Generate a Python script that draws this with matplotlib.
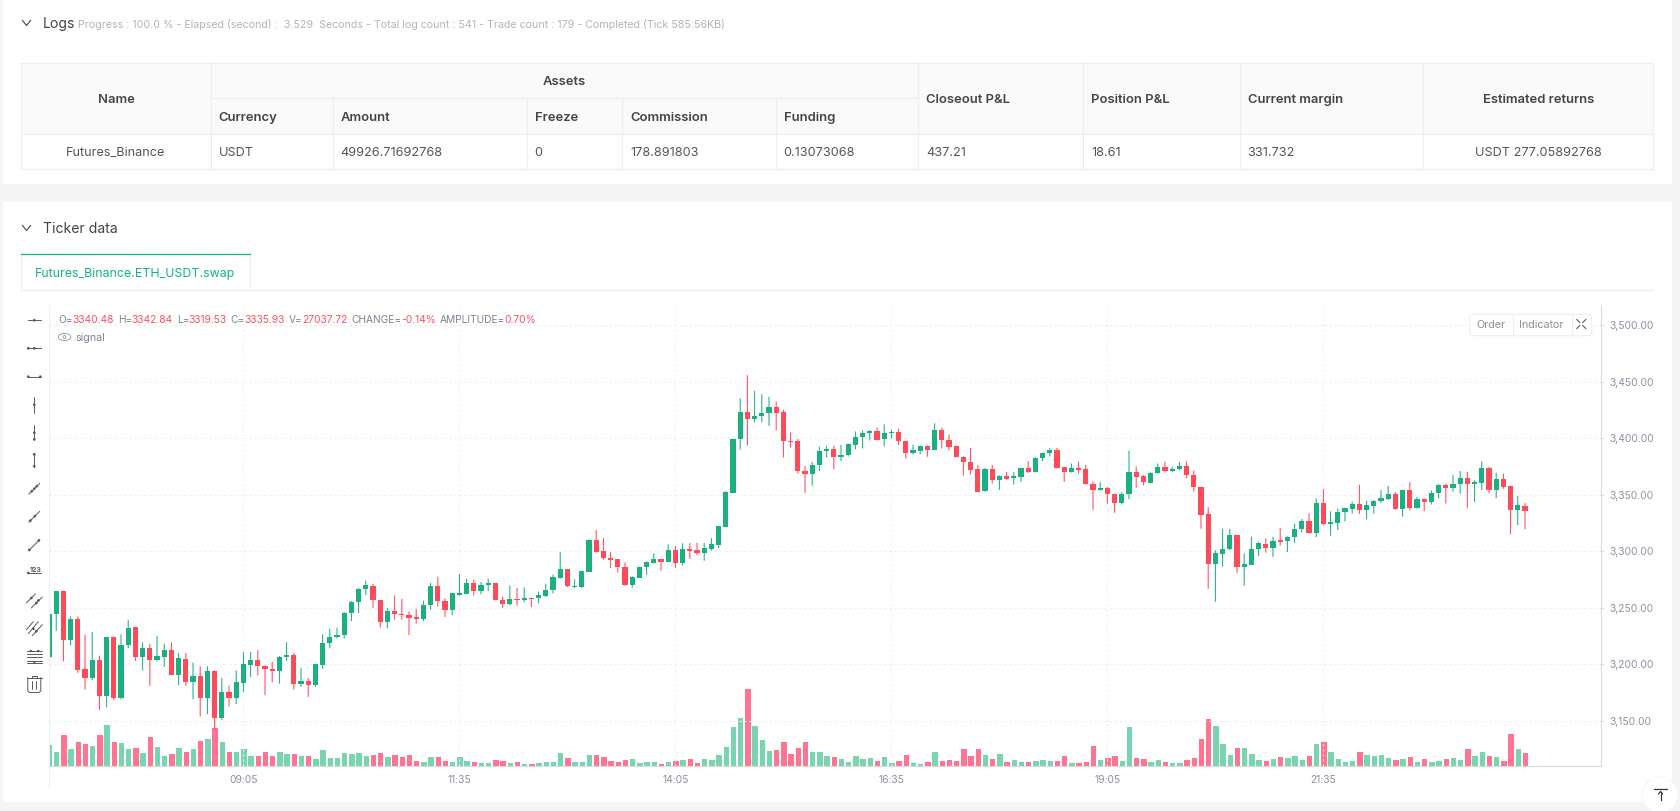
import numpy as np
import matplotlib
matplotlib.use('Agg')
import matplotlib.pyplot as plt
from matplotlib.patches import Rectangle, FancyBboxPatch, Circle, Ellipse

plt.rcParams['font.family'] = ['Inter', 'DejaVu Sans']

W, H = 1680, 811

# ETH_USDT 5 minute candles
opens = [
    3206.2,3244.1,3265.3,3221.2,3239.7,3196.2,3188,3204.1,3172.1,3223.8,
    3170.3,3217.4,3232.6,3206.2,3214.1,3203.8,3206.8,3212.6,3190.9,3204.7,
    3184.4,3189.7,3170.3,3193.8,3152.6,3175.3,3170.3,3183.8,3199.4,3204.1,
    3198.5,3195.6,3194.1,3206.5,3207.9,3182.4,3185.6,3181.5,3199.7,3218.8,
    3223.8,3226.2,3245.3,3254.7,3266.5,3269.7,3257.1,3237.1,3246.8,3244.7,
    3243.8,3242.2,3240.1,3252.2,3269.3,3256.3,3248.1,3261.4,3262.2,3272,
    3264.9,3270.5,3271.7,3257.2,3253.7,3257.8,3256.6,3258.7,3258.4,3260.8,
    3265.5,3276.7,3284,3268.3,3268.6,3281.9,3310.4,3300,3294.4,3292.9,
    3286.4,3269.8,3276.6,3286.1,3289.9,3292.9,3290.8,3300.9,3289.9,3302.4,
    3300.9,3298.5,3302.4,3305.9,3321.9,3351.6,3399,3423.3,3417.1,3419.8,
    3422.1,3427.5,3423.3,3397.8,3397.5,3371.2,3368.2,3376.2,3388.6,3390.4,
    3383.9,3385.1,3394,3401.1,3404.7,3406.4,3399,3404.7,3405.5,3397.5,
    3386.6,3389.2,3392.8,3390.1,3407.3,3398.4,3392.8,3383.9,3379.2,3372.9,
    3353.1,3372.9,3362.9,3367,3364.6,3366.1,3373.8,3370,3383,3386.9,
    3389.8,3374.4,3370,3373.8,3372.9,3359.9,3354,3356,3351,3342.7,
    3350.7,3370.3,3366.4,3360.8,3369.1,3374.4,3370.9,3372.6,3375.9,3367.9,
    3356.9,3332.9,3288.4,3297.9,3301.8,3314.5,3285.8,3288.1,3302.1,3306.4,
    3303.1,3309.6,3309,3312.3,3319.4,3327.2,3316.2,3342.9,3323.9,3325.1,
    3334.6,3337.8,3342.3,3336.9,3340.2,3344.1,3346.7,3350.3,3337.8,3354.2,
    3338.4,3346.4,3343.5,3351.5,3358.9,3355.6,3359.5,3364.8,3359.8,3360.4,
    3373.7,3353.9,3363.9,3357.4,3336.9,3340.48]
closes = [
    3244.7,3265,3221.2,3239.7,3195,3188,3204.1,3172.1,3223.8,3170.3,
    3217.4,3232.4,3206.2,3214.1,3203.8,3207.1,3212.6,3190.9,3205.6,3184.4,
    3189.7,3170.3,3193.8,3152.6,3175.3,3170.3,3184.1,3200,3204.1,3198.2,
    3195.6,3194.1,3206.5,3207.9,3182.4,3185.6,3181.5,3200,3219.1,3224.4,
    3226.2,3245.6,3254.7,3266.8,3270,3256.8,3237.1,3246.8,3244.1,3243.2,
    3240.9,3240.1,3252.5,3269.3,3256,3248.1,3262.8,3262.8,3272,3264.9,
    3270.5,3271.4,3256.6,3253.7,3257.8,3256.6,3258.7,3257.5,3261.1,3265.8,
    3277.3,3284.4,3268.9,3269.5,3282.2,3310.4,3299.4,3294.1,3292.6,3285.8,
    3269.8,3276.9,3286.4,3290.5,3292.9,3290.8,3300.9,3289.9,3302.4,3300.6,
    3298.5,3303,3306.5,3322.5,3352.2,3399.3,3423.3,3417.1,3420.1,3422.4,
    3427.5,3422.7,3397.2,3396.4,3370.9,3368.2,3376.5,3388.9,3390.4,3383.6,
    3385.4,3394.6,3401.4,3404.9,3406.4,3398.7,3404.7,3405.8,3397.2,3386.6,
    3389.5,3392.8,3390.1,3407.3,3398.4,3392.2,3383.6,3378.9,3372.3,3352.8,
    3372.9,3362.9,3367,3364.3,3366.4,3373.5,3370,3383,3387.2,3389.8,
    3373.8,3370,3373.5,3372.3,3359.6,3354,3356,3350.7,3342.7,3351,
    3370.3,3366.1,3361.1,3369.7,3374.4,3370.9,3372.9,3375.9,3367.6,3356.6,
    3332.3,3288.4,3298.2,3302.4,3314.5,3285.8,3288.7,3302.4,3307.4,3303.1,
    3309.3,3307.9,3312.6,3319.4,3327.2,3315.9,3342.9,3324.2,3325.7,3334.9,
    3338.1,3342,3336.9,3340.8,3344.7,3347,3350.3,3337.5,3354.2,3338.4,
    3346.1,3343.5,3351.8,3358.3,3355.6,3359.8,3364.8,3359.5,3361,3373.4,
    3353.9,3363.9,3357.1,3336.9,3340.8,3335.93]
highs = [
    3244.7,3265,3265.3,3242.4,3242.4,3226.2,3228.5,3207.6,3223.8,3224.7,
    3226.5,3239.4,3232.9,3219.4,3218,3225.3,3218.2,3219.4,3210,3210,
    3201.5,3198.2,3198.2,3194.7,3188,3181.2,3194.7,3210.9,3210.9,3212.6,
    3198.8,3202.1,3207.4,3219.4,3210,3196.8,3188,3200.6,3226.5,3231.5,
    3232.4,3246.2,3255.9,3267.6,3274.1,3271.2,3257.1,3249.7,3260.9,3257.9,
    3246.8,3249,3256.3,3272,3277.6,3258.4,3263.1,3280,3275.5,3274.9,
    3272.9,3275.8,3271.7,3259.9,3269.6,3267.6,3268.1,3258.7,3264.3,3271.4,
    3279.4,3299.4,3284,3275.1,3282.8,3310.7,3319,3311.9,3299.4,3292.9,
    3290.2,3278,3286.4,3291.1,3298.2,3292.9,3306.2,3304.4,3307.1,3307.4,
    3307.4,3307.4,3311.6,3322.5,3353.1,3399.6,3435.5,3455.9,3442,3439,
    3436.7,3432.5,3425.4,3405.2,3399.3,3375.6,3379.2,3392.5,3393.4,3393.4,
    3394.3,3395.5,3406.1,3407,3407.3,3409.4,3412.4,3407.6,3408.5,3397.8,
    3394.3,3393.7,3393.7,3413.3,3409.4,3403.2,3393.1,3384.2,3391.6,3376.2,
    3373.8,3376.5,3367.3,3370.3,3370,3373.8,3379.8,3383.3,3387.5,3391.6,
    3391.6,3374.4,3377.7,3379.5,3376.5,3362,3361.4,3356.9,3351,3352.2,
    3389.2,3375,3367.3,3370,3377.7,3379.2,3374.7,3379.2,3379.5,3371.4,
    3356.9,3339.1,3300.9,3319.9,3319.9,3314.5,3298.2,3313,3308.6,3311.4,
    3312.9,3320.6,3313.2,3324.2,3328.6,3333.7,3346.7,3355,3335.5,3337.8,
    3338.7,3344.1,3358.9,3344.7,3345.3,3354.2,3358,3352.4,3354.5,3361.3,
    3348.2,3346.7,3353.9,3359.5,3359.8,3367.5,3371.1,3370.2,3362.8,3379.7,
    3374.6,3369.6,3368.7,3358,3349.1,3342.84]
lows = [
    3206.2,3229.4,3202.6,3216.8,3192.4,3177.6,3185.9,3159.4,3161.8,3168.2,
    3168.8,3214.4,3203,3194.4,3181,3202.6,3197.6,3190.6,3181.5,3180.9,
    3169.1,3153.8,3155.9,3141.8,3150.6,3162.6,3164.7,3175.3,3188.8,3190.3,
    3172.6,3184.1,3182.9,3202.9,3177.6,3180,3171.2,3180,3195.9,3214.1,
    3223,3223,3238.2,3245.3,3261.2,3250,3232.4,3231.8,3239.4,3239.4,
    3225.9,3236,3238.1,3248.4,3251.3,3241.9,3243.4,3260.8,3261.9,3260.8,
    3261.9,3264.6,3256.6,3249.9,3252.2,3251.9,3254.9,3250.7,3254,3259.6,
    3262.8,3275.8,3268.3,3267.4,3267.4,3281.6,3298.8,3292.6,3285.2,3281,
    3269.5,3267.7,3276.3,3279.2,3289.3,3282.8,3290.5,3285.2,3287.3,3293.2,
    3296.7,3291.7,3300.6,3303,3321.9,3351.3,3390.1,3393.7,3414.1,3414.1,
    3410.9,3407,3383,3391.9,3368.8,3351.6,3358.1,3371.2,3383,3372.6,
    3379.8,3383.9,3390.1,3391,3398.1,3398.1,3392.8,3399.9,3394,3382.1,
    3385.7,3386,3383.6,3389.8,3391,3389.5,3383.3,3367,3367.9,3352.2,
    3352.8,3359.9,3354.3,3363.4,3359,3361.4,3369.4,3369.7,3379.8,3383.9,
    3373.2,3361.4,3369.7,3368.8,3359,3336.8,3353.7,3342.1,3334.1,3341.5,
    3346.2,3356.3,3358.4,3360.2,3368.8,3369.7,3370,3371.7,3364.6,3352.8,
    3319.9,3266.8,3255.2,3286.4,3300.9,3281,3269.5,3287.8,3295.8,3298.7,
    3295.1,3304.9,3299.3,3307.6,3316.5,3315.6,3312.6,3323.3,3313.8,3318.8,
    3326.6,3333.4,3333.1,3328.3,3333.1,3342.6,3345.3,3336.6,3330.7,3336.3,
    3337.8,3335.5,3341.4,3347,3342.3,3352.7,3350.9,3338.1,3343.8,3354.2,
    3351.2,3347,3355.3,3315,3323.3,3319.53]
# volume in thousands
volumes = [
    42.6,28.4,62.9,35.2,48.7,46.0,41.9,62.9,83.8,50.0,47.3,35.2,37.2,27.7,59.5,38.5,21.6,24.3,37.2,29.1,
    35.2,52.1,56.1,77.7,49.3,29.7,29.1,35.2,21.0,21.0,28.4,21.0,29.1,25.7,25.0,21.0,21.0,14.2,32.4,16.9,
    16.2,27.0,24.3,26.4,21.6,22.3,27.0,18.9,22.3,19.6,23.0,10.8,
    8.1,18.9,18.3,11.5,8.1,18.3,10.1,8.8,6.8,6.8,12.2,10.1,6.1,8.1,5.4,4.7,6.8,9.5,9.5,27.7,16.2,8.8,8.8,
    22.3,23.7,18.9,11.5,8.8,12.8,15.5,6.8,9.5,8.1,4.7,9.5,10.1,12.2,15.5,7.4,14.2,12.2,22.3,38.5,79.1,
    98.7,156.2,81.1,54.1,30.4,33.8,49.3,25.0,37.9,50.0,29.7,29.1,20.3,19.6,
    14.9,8.8,20.3,14.2,17.6,10.1,18.9,6.8,10.1,23.7,7.4,5.4,8.8,28.4,11.5,12.2,10.1,35.8,20.3,35.8,22.3,
    14.2,24.3,9.5,12.2,9.5,9.5,10.1,12.2,10.1,10.1,20.3,6.8,6.1,8.8,40.6,12.2,16.9,20.3,10.1,79.1,16.9,
    15.5,9.5,13.5,8.1,6.8,6.1,12.2,16.2,54.8,95.3,82.5,44.6,22.3,36.5,36.5,25.7,12.2,
    10.8,14.9,19.6,17.6,20.3,13.5,21.0,44.6,48.7,29.7,15.5,9.5,10.8,29.1,22.3,21.0,23.0,16.9,13.5,14.2,
    18.3,8.1,14.2,8.8,10.1,14.9,17.6,12.8,34.5,21.0,28.4,21.0,18.3,11.5,64.9,34.5,27.04]

time_ticks = [27, 57, 87, 117, 147, 177]
time_labels = ['09:05', '11:35', '14:05', '16:35', '19:05', '21:35']
price_ticks = [3150, 3200, 3250, 3300, 3350, 3400, 3450, 3500]

group_heads = ['Name', 'Assets', 'Closeout P&L', 'Position P&L', 'Current margin', 'Estimated returns']
asset_heads = ['Currency', 'Amount', 'Freeze', 'Commission', 'Funding']
row_values = ['Futures_Binance', 'USDT', '49926.71692768', '0', '178.891803', '0.13073068',
              '437.21', '18.61', '331.732', 'USDT 277.05892768']
col_edges = [21.4, 210.5, 332.6, 526.5, 622.4, 775.6, 918.2, 1083, 1239.6, 1423.3, 1653]

GREEN = '#1bb081'
RED = '#ff4a5a'
VGREEN = '#78d5b0'
VRED = '#ff7490'
AXIS_TXT = '#8a92a3'
GRID = '#eceef1'
ICON = '#555a60'


def fpx(n):
    return n * 0.72


fig = plt.figure(figsize=(W / 100, H / 100), dpi=100, facecolor='#f4f5f7')

# page layer in pixel coordinates
page = fig.add_axes([0, 0, 1, 1], zorder=0)
page.set_xlim(0, W)
page.set_ylim(H, 0)
page.axis('off')

page.add_patch(Rectangle((3, -2), 1669, 186, fc='white', ec='none'))
page.add_patch(Rectangle((3, 202), 1669, 600, fc='white', ec='none'))

for cy, name in [(23, 'Logs'), (228, 'Ticker data')]:
    page.plot([22.5, 26.5, 30.5], [cy - 2.5, cy + 2.5, cy - 2.5], color='#444444', lw=0.8)
    page.text(43, cy + 1, name, fontsize=fpx(14), color='#444444', va='center')
page.text(78, 25, 'Progress : 100.0 % - Elapsed (second) :  3.529  Seconds - Total log count : 541 - '
          'Trade count : 179 - Completed (Tick 585.56KB)', fontsize=fpx(10.65), color='#b4b4b4', va='center')

# table
page.add_patch(Rectangle((col_edges[0], 63.3), col_edges[-1] - col_edges[0], 71, fc='#fafafa', ec='none'))
BORDER = '#eeeeee'
for yy, x0, x1 in [(63.3, 21.4, 1653), (134.3, 21.4, 1653), (169.3, 21.4, 1653), (98.3, 210.5, 918.2)]:
    page.plot([x0, x1], [yy, yy], color=BORDER, lw=0.9)
for i, xx in enumerate(col_edges):
    top = 98.3 if 2 <= i <= 5 else 63.3
    bot = 169.3
    page.plot([xx, xx], [top, bot], color=BORDER, lw=0.8)

head_kw = dict(fontsize=fpx(13), color='#444444', va='center', fontweight='semibold')
body_kw = dict(fontsize=fpx(12.7), color='#555555', va='center')
page.text(116, 100, group_heads[0], ha='center', **head_kw)
page.text(564, 82, group_heads[1], ha='center', **head_kw)
for xx, s in zip(col_edges[6:9], group_heads[2:5]):
    page.text(xx + 8, 100, s, **head_kw)
page.text(1538.5, 100, group_heads[5], ha='center', **head_kw)
for xx, s in zip(col_edges[1:6], asset_heads):
    page.text(xx + 8, 117.7, s, **head_kw)
page.text(116, 153, row_values[0], ha='center', **body_kw)
for xx, s in zip(col_edges[1:9], row_values[1:9]):
    page.text(xx + 8, 153, s, **body_kw)
page.text(1538.5, 153, row_values[9], ha='center', **body_kw)

# tab
page.plot([21.4, 1653], [290.3, 290.3], color=BORDER, lw=0.9)
page.plot([21.4, 21.4], [254, 290.3], color=BORDER, lw=0.8)
page.plot([249.6, 249.6], [254, 290.3], color=BORDER, lw=0.8)
page.plot([21.4, 249.6], [254, 254], color='#12b386', lw=0.9)
page.text(135.5, 274, 'Futures_Binance.ETH_USDT.swap', fontsize=fpx(12.4), color='#12b386', va='center', ha='center')

# chart
AX_L, AX_R, AX_T, AX_B = 49.3, 1601.3, 305, 766.3
ax = fig.add_axes([AX_L / W, 1 - AX_B / H, (AX_R - AX_L) / W, (AX_B - AX_T) / H], zorder=1)
ax.patch.set_alpha(0)
ax.set_xlim(0.04, 215.6)
ax.set_ylim(3109.7, 3518)

x = np.arange(len(opens))
o = np.array(opens)
c = np.array(closes)
up = c >= o
colors = np.where(up, GREEN, RED)

# volume, own scale under the candles
vx = ax.twinx()
vx.set_xlim(ax.get_xlim())
vx.set_ylim(0, 461.3 * 2.03)
vx.axis('off')
vx.bar(x + 0.08, volumes, width=0.75, color=np.where(up, VGREEN, VRED), zorder=2, linewidth=0)
ax.set_zorder(2)
vx.set_zorder(1)

ax.set_xticks(time_ticks, time_labels)
ax.set_yticks(price_ticks, [f'{p:,.2f}' for p in price_ticks])
ax.grid(True, color=GRID, lw=0.8, ls=(0, (2, 2.5)), zorder=0)
ax.set_axisbelow(True)
ax.yaxis.tick_right()
ax.tick_params(axis='y', length=2.2, width=0.7, color='#dddddd', labelsize=fpx(10.3), labelcolor=AXIS_TXT, pad=3.5)
ax.tick_params(axis='x', length=0, labelsize=fpx(10.3), labelcolor=AXIS_TXT, pad=6)
for s in ['top', 'left']:
    ax.spines[s].set_visible(False)
for s in ['right', 'bottom']:
    ax.spines[s].set_visible(True)
    ax.spines[s].set_color('#d9dadd')
    ax.spines[s].set_linewidth(0.8)

wicks = ax.vlines(x, lows, highs, colors=colors, lw=0.75, zorder=3)
wicks.set_snap(False)
ax.bar(x, np.maximum(np.abs(c - o), 1.0), bottom=np.minimum(o, c), width=0.7, color=colors, linewidth=0, zorder=4)

# overlay layer for the controls on top of the chart
ui = fig.add_axes([0, 0, 1, 1], zorder=5)
ui.set_xlim(0, W)
ui.set_ylim(H, 0)
ui.axis('off')
ui.patch.set_alpha(0)

ui.plot([49.3, 49.3], [305, 787], color='#eef0f2', lw=0.8)

# header text run
renderer = fig.canvas.get_renderer()
LBL = '#7b8494'
NUM = '#f5535f'
run = [('O=', LBL), ('3340.48', NUM), ('H=', LBL), ('3342.84', NUM), ('L=', LBL), ('3319.53', NUM),
       ('C=', LBL), ('3335.93', NUM), ('V=', LBL), ('27037.72', NUM), ('CHANGE=', LBL), ('-0.14%', NUM),
       ('AMPLITUDE=', LBL), ('0.70%', NUM)]
cur = 58.7
for s, col in run:
    t = ui.text(cur, 320, s, fontsize=fpx(10.2), color=col, va='center')
    cur += t.get_window_extent(renderer).width + (3.8 if col == NUM else -0.4)

ui.add_patch(Ellipse((64.5, 337), 12.5, 7, fc='none', ec='#8b93a3', lw=0.6))
ui.add_patch(Circle((64.5, 337), 1.5, fc='none', ec='#8b93a3', lw=0.6))
ui.text(75.7, 338, 'signal', fontsize=fpx(10.7), color='#7b8494', va='center')

# order / indicator buttons
ui.add_patch(FancyBboxPatch((1471, 315.5), 119.5, 19, boxstyle='round,pad=1.2,rounding_size=3',
                            fc='white', ec='#eeeeee', lw=0.8))
for xx in [1512.7, 1571.7]:
    ui.plot([xx, xx], [314.3, 335.3], color='#eeeeee', lw=0.8)
ui.text(1491.3, 325, 'Order', fontsize=fpx(10.7), color='#8a8f98', ha='center', va='center')
ui.text(1541.7, 325, 'Indicator', fontsize=fpx(10.7), color='#8a8f98', ha='center', va='center')
for sx, sy in [(-1, -1), (1, -1), (-1, 1), (1, 1)]:
    ui.plot([1581.3 + sx * 1.5, 1581.3 + sx * 4.5], [324 + sy * 1.5, 324 + sy * 4.5], color='#6a6f76', lw=0.9)


# left toolbar
def seg(pts, dots=()):
    xs, ys = zip(*pts)
    ui.plot(xs, ys, color=ICON, lw=0.7, solid_capstyle='round')
    for dx, dy in dots:
        ui.add_patch(Circle((dx, dy), 1.35, fc=ICON, ec='none'))


CX = 34.3
y1, y2, y3 = 320.3, 348.3, 376.7
seg([(CX - 6.5, y1), (CX + 6.5, y1)], [(CX, y1)])
seg([(CX - 7, y2), (CX + 7, y2)], [(CX - 6, y2), (CX, y2)])
seg([(CX - 6.5, y3), (CX + 6.5, y3)], [(CX - 6, y3), (CX + 6, y3)])
y4, y5, y6 = 404.7, 432.7, 460.3
seg([(CX, y4 - 8), (CX, y4 + 8)], [(CX, y4)])
seg([(CX, y5 - 7.5), (CX, y5 + 7.5)], [(CX, y5), (CX, y5 + 6.5)])
seg([(CX, y6 - 6.5), (CX, y6 + 6.5)], [(CX, y6 - 6), (CX, y6 + 6)])
y7, y8, y9 = 488.7, 516.7, 545
seg([(CX - 5.5, y7 + 5.5), (CX + 5.5, y7 - 5.5)], [(CX, y7), (CX - 2.5, y7 + 2.5), (CX + 2.5, y7 - 2.5)])
seg([(CX - 5.5, y8 + 5.5), (CX + 5.5, y8 - 5.5)], [(CX - 4, y8 + 4), (CX + 0.5, y8 - 0.5)])
seg([(CX - 5.5, y9 + 5.5), (CX + 5.5, y9 - 5.5)], [(CX - 5, y9 + 5), (CX + 4.5, y9 - 4.5)])
y10 = 573
seg([(CX - 6.5, y10), (CX + 7, y10)], [(CX - 6, y10)])
ui.text(CX + 1.5, 569.5, '123', fontsize=fpx(7), color=ICON, ha='center', va='center', fontweight='bold')
y11 = 600
seg([(CX - 8, y11 + 3), (CX + 1, y11 - 6)], [(CX - 3, y11 - 2)])
seg([(CX - 3, y11 + 8), (CX + 8, y11 - 3)], [(CX + 2, y11 + 3), (CX + 4, y11 + 0.5)])
y12 = 627.7
seg([(CX - 8, y12 + 2), (CX - 1, y12 - 6)], [])
seg([(CX - 6, y12 + 6), (CX + 4, y12 - 6)], [(CX - 1, y12 + 1)])
seg([(CX - 2, y12 + 8), (CX + 8, y12 - 3)], [(CX + 2, y12 + 3.5)])
y13 = 656
for dy in [-5, -2, 1, 4.5, 7]:
    seg([(CX - 7.5, y13 + dy), (CX + 8, y13 + dy)], [])
ui.add_patch(Circle((CX - 3.5, y13 - 5), 1.2, fc=ICON, ec='none'))
ui.add_patch(Circle((CX + 4, y13 - 5), 1.2, fc=ICON, ec='none'))
ui.add_patch(Circle((CX, y13 + 7), 1.2, fc=ICON, ec='none'))
# trash can
seg([(CX - 7.5, 677.5), (CX + 7.5, 677.5)])
seg([(CX - 2.5, 677.5), (CX - 2.5, 675.5), (CX + 2.5, 675.5), (CX + 2.5, 677.5)])
seg([(CX - 6.5, 677.5), (CX - 6.5, 691), (CX - 4.5, 692.5), (CX + 4.5, 692.5), (CX + 6.5, 691), (CX + 6.5, 677.5)])
seg([(CX - 2, 681), (CX - 2, 689)])
seg([(CX + 2, 681), (CX + 2, 689)])

# back to top button
ui.add_patch(Circle((1660, 795), 18, fc='white', ec='#f1f1f1', lw=0.5, clip_on=True))
ui.plot([1654, 1667], [788.7, 788.7], color='#333333', lw=0.9)
ui.plot([1660.5, 1660.5], [791.5, 800], color='#333333', lw=0.9)
ui.plot([1658.5, 1660.5, 1662.5], [794, 791.5, 794], color='#333333', lw=0.8)

fig.savefig('out.png', dpi=100)
